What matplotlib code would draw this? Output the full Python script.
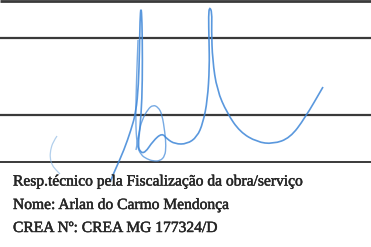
import matplotlib
matplotlib.use("Agg")
import matplotlib.pyplot as plt
from matplotlib.path import Path
from matplotlib.patches import PathPatch
import matplotlib.patheffects as pe

# ---- content ----
rule_y = [1.5, 38, 115, 161.5]
rule_w = [2.0, 1.6, 1.6, 1.4]

text_lines = [
    "Resp.técnico pela Fiscalização da obra/serviço",
    "Nome: Arlan do Carmo Mendonça",
    "CREA Nº: CREA MG 177324/D",
]
text_baselines = [185.5, 209, 232]

# signature strokes (pixel coordinates)
stroke_main_x = [110, 116, 124, 131, 136, 138.5, 139.5, 140, 141, 142, 142.5, 142, 140, 138, 140, 145,
                 153, 162, 167, 175, 187, 197, 203, 207.5, 209.5, 209, 208.5, 209.5, 212, 211.5,
                 212.5, 217, 227, 240, 257, 273, 290, 305, 323]
stroke_main_y = [182, 168, 150, 130, 112, 85, 50, 20, 6, 20, 60, 100, 128, 145, 152, 153,
                 141, 133, 139, 144, 144, 137, 123, 100, 67, 40, 15, 7, 12, 30,
                 60, 90, 113, 132, 142, 144, 138, 118, 87]

stroke_loop_x = [136, 139, 142, 148, 153, 158, 162, 165, 166, 165, 160, 153, 147, 141, 137, 135.5, 136.5, 138]
stroke_loop_y = [150, 132, 120, 109, 105, 107, 114, 133, 146, 156, 161, 161, 159, 155, 146, 120, 80, 40]

stroke_faint_x = [57, 53, 50.5, 50, 52, 56, 60]
stroke_faint_y = [136, 142, 150, 158, 165, 170, 174]

SIG = "#3d86d8"
INK = "#262626"
RULE = "#3a3a3a"


def smooth_path(xs, ys):
    pts = list(zip(xs, ys))
    verts = [pts[0]]
    codes = [Path.MOVETO]
    for i in range(1, len(pts) - 1):
        p, q = pts[i], pts[i + 1]
        verts += [p, ((p[0] + q[0]) / 2, (p[1] + q[1]) / 2)]
        codes += [Path.CURVE3, Path.CURVE3]
    verts.append(pts[-1])
    codes.append(Path.LINETO)
    return Path(verts, codes)


W, H = 371, 247
fig = plt.figure(figsize=(W / 100, H / 100), dpi=100)
ax = fig.add_axes([0, 0, 1, 1])
ax.set_xlim(0, W)
ax.set_ylim(H, 0)
ax.axis("off")
fig.patch.set_facecolor("white")

for y, w in zip(rule_y, rule_w):
    ax.plot([0, W], [y, y], color=RULE, lw=w, solid_capstyle="butt", zorder=1)

ax.add_patch(PathPatch(smooth_path(stroke_main_x, stroke_main_y), fill=False,
                       edgecolor=SIG, lw=1.2, alpha=0.85, zorder=3))
ax.add_patch(PathPatch(smooth_path(stroke_loop_x, stroke_loop_y), fill=False,
                       edgecolor=SIG, lw=1.0, alpha=0.7, zorder=3))
ax.add_patch(PathPatch(smooth_path(stroke_faint_x, stroke_faint_y), fill=False,
                       edgecolor="#7fb0e0", lw=0.9, alpha=0.6, zorder=3))

for t, yb in zip(text_lines, text_baselines):
    ax.text(13, yb, t, family="Liberation Serif", fontsize=11.2, color=INK,
            ha="left", va="baseline", zorder=4,
            path_effects=[pe.withStroke(linewidth=0.35, foreground=INK)])

fig.savefig("out.png", dpi=100, facecolor="white")
